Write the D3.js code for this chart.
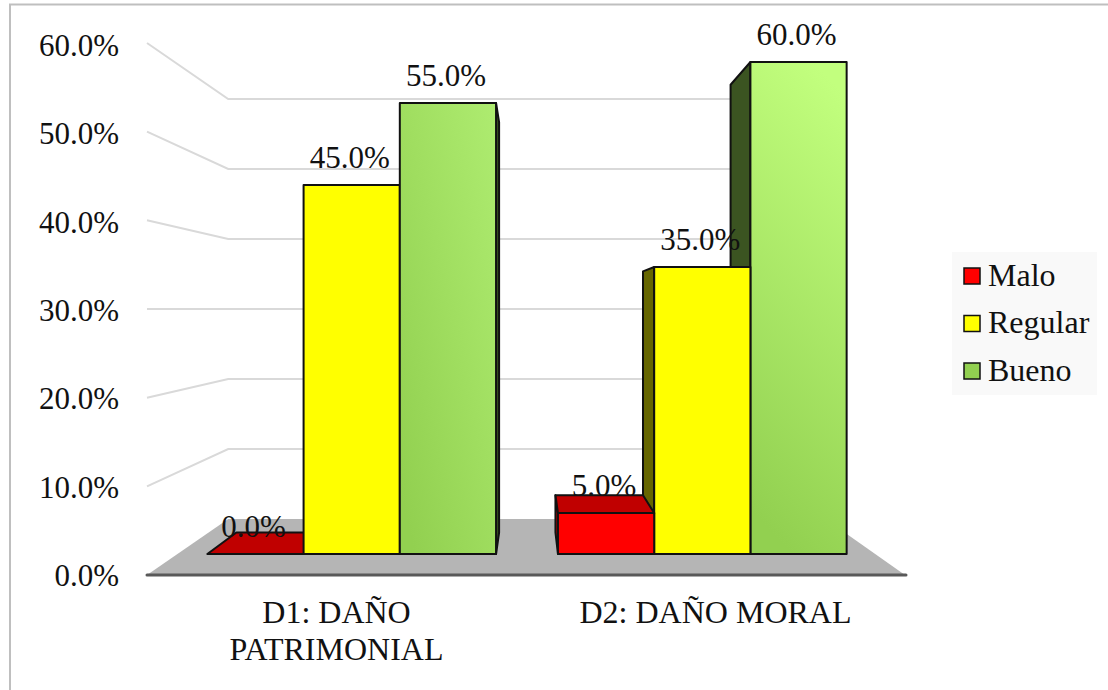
<!DOCTYPE html>
<html>
<head>
<meta charset="utf-8">
<script src="https://cdn.jsdelivr.net/npm/d3@7"></script>
<style>
  html, body { margin: 0; padding: 0; background: #fff; }
  svg { display: block; }
  text { font-family: "Liberation Serif", serif; fill: #111; }
</style>
</head>
<body>
<div id="chart"></div>
<script>
// 3D clustered bars: every depth is projected toward one vanishing point
const categories = ['D1: DAÑO|PATRIMONIAL', 'D2: DAÑO MORAL'];
const seriesNames = ['Malo', 'Regular', 'Bueno'];
const malo = [0, 5];
const regular = [45, 35];
const bueno = [55, 60];
const tickValues = [0, 10, 20, 30, 40, 50, 60];

const seriesValues = [malo, regular, bueno];
const colors = {
    Malo: { front: '#ff0000', side: '#c00000', top: '#c00000' },
    Regular: { front: '#ffff00', side: '#666600', top: '#666600' },
    Bueno: { front: '#92d050', side: '#3b5421', top: '#3b5421' }
};

const W = 1108, H = 690;
const vp = [530, 315];
const barDepth = 0.91, floorDepth = 0.788;

const svg = d3.select('#chart').append('svg')
    .attr('width', W)
    .attr('height', H);

// green bars fade lighter toward the top, one gradient per category
const defs = svg.append('defs');
[
    ['green0', '#aeec70', 1, 0, 0.1, 0.95],
    ['green1', '#c2ff7e', 0.65, 0, 0.45, 1]
].forEach(([id, c, ax, ay, bx, by]) => {
    const g = defs.append('linearGradient').attr('id', id)
        .attr('x1', ax).attr('y1', ay).attr('x2', bx).attr('y2', by);
    g.append('stop').attr('offset', '0%').attr('stop-color', c);
    g.append('stop').attr('offset', '100%').attr('stop-color', '#92d050');
});

const project = (x, y, k) => [vp[0] + (x - vp[0]) * k, vp[1] + (y - vp[1]) * k];
// the wall sits a little off the bars' vanishing point in y
const wallBack = (x, y) => [vp[0] + (x - vp[0]) * floorDepth, 309 + (y - 309) * 0.7895];

// chart frame
svg.append('path')
    .attr('d', `M10,${H}V4.5H${W}`)
    .attr('fill', 'none')
    .attr('stroke', '#bfbfbf')
    .attr('stroke-width', 2);

// scales: axis plane, bar front plane
const axisY = d3.scaleLinear().domain([0, 60]).range([575, 43]);
const tickY = d3.scaleLinear().domain([0, 60]).range([575.5, 45]);
const frontY = d3.scaleLinear().domain([0, 60]).range([554, 62]);
const x0 = d3.scaleBand().domain(categories).range([176.5, 877.5])
    .paddingInner(0.1766).paddingOuter(0.088);
const x1 = d3.scaleBand().domain(seriesNames).range([0, x0.bandwidth()]);
const axisX = d3.scaleBand().domain(categories).range([147, 905]);

// floor
const floorL = wallBack(147, 575), floorR = wallBack(905, 575);
svg.append('polygon')
    .attr('points', [[147, 575], floorL, floorR, [905, 575]].join(' '))
    .attr('fill', '#b5b5b5');

// gridlines: side wall then back wall
svg.append('g').selectAll('polyline')
    .data(tickValues.filter(d => d > 0))
    .join('polyline')
    .attr('points', d => {
        const back = wallBack(147, axisY(d));
        return [[147, axisY(d)], back, [floorR[0], back[1]]].join(' ');
    })
    .attr('fill', 'none')
    .attr('stroke', '#d9d9d9')
    .attr('stroke-width', 2);

// bars, far ones first: outer faces toward the vanishing point get covered
const bars = svg.append('g').attr('stroke', '#111').attr('stroke-width', 2)
    .attr('stroke-linejoin', 'round');

function drawBar(catIndex, serIndex) {
    const name = seriesNames[serIndex];
    const v = seriesValues[serIndex][catIndex];
    const xa = x0(categories[catIndex]) + x1(name);
    const xb = xa + x1.bandwidth();
    const yt = frontY(v), yb = frontY(0);
    const c = colors[name];

    // side wall, on whichever side faces the viewer
    const sx = catIndex === 0 ? xb : xa;
    if (v > 0) {
        bars.append('polygon')
            .attr('points', [[sx, yt], project(sx, yt, barDepth), project(sx, yb, barDepth), [sx, yb]].join(' '))
            .attr('fill', c.side);
    }
    // top face only shows when the bar top is below eye level
    if (project(xa, yt, barDepth)[1] < yt) {
        bars.append('polygon')
            .attr('points', [[xa, yt], project(xa, yt, barDepth), project(xb, yt, barDepth), [xb, yt]].join(' '))
            .attr('fill', c.top);
    }
    // front face
    if (v > 0) {
        bars.append('rect')
            .attr('x', xa).attr('y', yt)
            .attr('width', xb - xa).attr('height', yb - yt)
            .attr('fill', name === 'Bueno' ? `url(#green${catIndex})` : c.front);
    }
}

[0, 1, 2].forEach(s => drawBar(0, s));
[2, 1, 0].forEach(s => drawBar(1, s));

// axis line along the floor edge
svg.append('line')
    .attr('x1', 147).attr('x2', 906)
    .attr('y1', 575).attr('y2', 575)
    .attr('stroke', '#595959')
    .attr('stroke-width', 3)
    .attr('stroke-linecap', 'round');

// y axis labels
const yAxis = svg.append('g')
    .attr('transform', 'translate(119,0)')
    .call(d3.axisLeft(tickY).tickValues(tickValues).tickSize(0).tickPadding(0)
        .tickFormat(d => d.toFixed(1) + '%'));
yAxis.select('.domain').remove();
yAxis.selectAll('text')
    .attr('font-family', '"Liberation Serif", serif')
    .style('font-size', '31px')
    .attr('dy', '0.33em');

// data labels
categories.forEach((cat, i) => {
    seriesNames.forEach((name, s) => {
        const v = seriesValues[s][i];
        svg.append('text')
            .attr('x', x0(cat) + x1(name) + x1.bandwidth() / 2 - 2)
            .attr('y', frontY(v) - 17.5)
            .attr('text-anchor', 'middle')
            .style('font-size', '31px')
            .text(v.toFixed(1) + '%');
    });
});

// category labels
categories.forEach(cat => {
    cat.split('|').forEach((line, j) => {
        svg.append('text')
            .attr('x', axisX(cat) + axisX.bandwidth() / 2)
            .attr('y', 622.5 + j * 37)
            .attr('text-anchor', 'middle')
            .style('font-size', '32px')
            .text(line);
    });
});

// legend
const legend = svg.append('g').attr('transform', 'translate(952,252)');
legend.append('rect').attr('width', 145).attr('height', 143).attr('fill', '#f9f9f9');
const legendY = d3.scalePoint().domain(seriesNames).range([16, 111]);
const items = legend.selectAll('g.item').data(seriesNames).join('g')
    .attr('class', 'item')
    .attr('transform', d => `translate(12,${legendY(d)})`);
items.append('rect')
    .attr('width', 16).attr('height', 16)
    .attr('fill', d => colors[d].front)
    .attr('stroke', '#111')
    .attr('stroke-width', 1.5);
items.append('text')
    .attr('x', 24).attr('y', 17.5)
    .style('font-size', '32px')
    .text(d => d);
</script>
</body>
</html>
